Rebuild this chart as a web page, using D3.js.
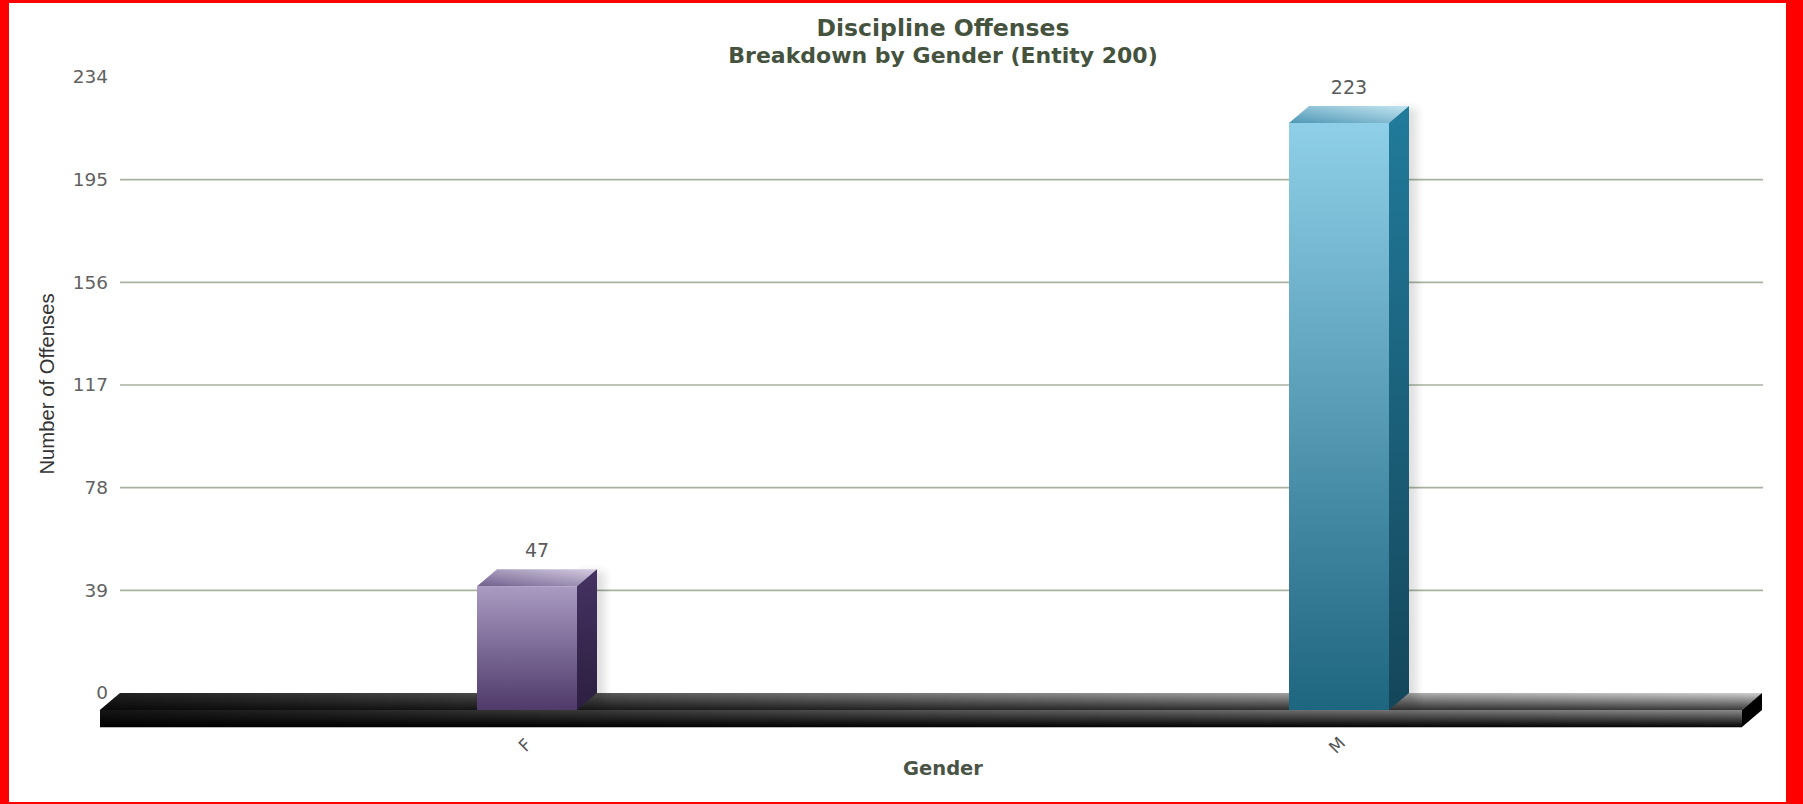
<!DOCTYPE html>
<html>
<head>
<meta charset="utf-8">
<script src="https://cdn.jsdelivr.net/npm/d3@7"></script>
<style>
  html, body { margin: 0; padding: 0; background: #ffffff; }
  svg { display: block; }
</style>
</head>
<body>
<svg id="chart" width="1803" height="804"></svg>
<script>
// ---- data ----
const categories = ["F", "M"];
const offenses = [47, 223];
const yTickValues = [0, 39, 78, 117, 156, 195, 234];
const titleText = "Discipline Offenses";
const subtitleText = "Breakdown by Gender (Entity 200)";
const xAxisTitle = "Gender";
const yAxisTitle = "Number of Offenses";

// ---- styles ----
const palettes = [
  { frontTop: "#a99bc2", frontBot: "#4f3a6a", sideTop: "#453262", sideBot: "#2c1f40", topL: "#6e5e8c", topR: "#d6cde3" },
  { frontTop: "#8fd0e8", frontBot: "#1e6580", sideTop: "#217b9b", sideBot: "#15465a", topL: "#4f97b5", topR: "#c4e6f2" }
];

const W = 1803, H = 804;
const svg = d3.select("#chart");
const defs = svg.append("defs");

// frame
svg.append("rect").attr("x", 0).attr("y", 0).attr("width", W).attr("height", H).attr("fill", "#ff0000");
svg.append("rect").attr("x", 9).attr("y", 3).attr("width", 1777).attr("height", 799).attr("fill", "#ffffff");

// geometry
const depthX = 20, depthY = 17;
const barW = 100;
const y = d3.scaleLinear().domain([0, 234]).range([693, 77]);
const x = d3.scalePoint().domain(categories).range([141, 1765]).padding(0.5);
const gridLeft = 120, gridRight = 1763;

// gridlines
svg.append("g").selectAll("line")
  .data(yTickValues.filter(v => v > 0 && v < 234))
  .join("line")
  .attr("x1", gridLeft).attr("x2", gridRight)
  .attr("y1", d => y(d)).attr("y2", d => y(d))
  .attr("stroke", "#a7b39f").attr("stroke-width", 1.6);

// y axis tick labels
const yAxis = d3.axisLeft(y).tickValues(yTickValues).tickSize(0).tickPadding(0);
const yg = svg.append("g").attr("transform", "translate(108,0)").call(yAxis);
yg.select(".domain").remove();
yg.selectAll("text")
  .attr("font-family", "DejaVu Sans, Verdana, sans-serif")
  .attr("font-size", 18.5)
  .attr("fill", "#626262");

// floor
const fl = 100, fr = 1742, fTop = y(0), fFront = y(0) + depthY, fBot = fFront + 17;
const gTop = defs.append("linearGradient").attr("id", "floorTop").attr("x1", 0).attr("y1", 0).attr("x2", 0).attr("y2", 1);
gTop.append("stop").attr("offset", "0%").attr("stop-color", "#cfcfcf");
gTop.append("stop").attr("offset", "100%").attr("stop-color", "#3a3a3a");
const gFront = defs.append("linearGradient").attr("id", "floorFront").attr("x1", 0).attr("y1", 0).attr("x2", 0).attr("y2", 1);
gFront.append("stop").attr("offset", "0%").attr("stop-color", "#8a8a8a");
gFront.append("stop").attr("offset", "100%").attr("stop-color", "#050505");
const gShade = defs.append("linearGradient").attr("id", "floorShade").attr("x1", 0).attr("y1", 0).attr("x2", 1).attr("y2", 0);
gShade.append("stop").attr("offset", "0%").attr("stop-color", "#000").attr("stop-opacity", 0.85);
gShade.append("stop").attr("offset", "55%").attr("stop-color", "#000").attr("stop-opacity", 0.35);
gShade.append("stop").attr("offset", "100%").attr("stop-color", "#000").attr("stop-opacity", 0.0);

const floor = svg.append("g");
const topPts = [[fl, fFront], [fl + depthX, fTop], [fr + depthX, fTop], [fr, fFront]];
floor.append("polygon").attr("points", topPts.join(" ")).attr("fill", "url(#floorTop)");
floor.append("polygon").attr("points", topPts.join(" ")).attr("fill", "url(#floorShade)");
floor.append("rect").attr("x", fl).attr("y", fFront).attr("width", fr - fl).attr("height", fBot - fFront).attr("fill", "url(#floorFront)");
floor.append("rect").attr("x", fl).attr("y", fFront).attr("width", fr - fl).attr("height", fBot - fFront).attr("fill", "url(#floorShade)");
floor.append("line").attr("x1", fl).attr("x2", fr).attr("y1", fBot + 0.5).attr("y2", fBot + 0.5).attr("stroke", "#bbbbbb").attr("stroke-width", 1);
floor.append("polygon")
  .attr("points", [[fr, fFront], [fr + depthX, fTop], [fr + depthX, fTop + 17], [fr, fBot]].join(" "))
  .attr("fill", "#000");

// bar gradients
palettes.forEach((p, i) => {
  const gf = defs.append("linearGradient").attr("id", "front" + i).attr("x1", 0).attr("y1", 0).attr("x2", 0).attr("y2", 1);
  gf.append("stop").attr("offset", "0%").attr("stop-color", p.frontTop);
  gf.append("stop").attr("offset", "100%").attr("stop-color", p.frontBot);
  const gs = defs.append("linearGradient").attr("id", "side" + i).attr("x1", 0).attr("y1", 0).attr("x2", 0).attr("y2", 1);
  gs.append("stop").attr("offset", "0%").attr("stop-color", p.sideTop);
  gs.append("stop").attr("offset", "100%").attr("stop-color", p.sideBot);
  const gt = defs.append("linearGradient").attr("id", "top" + i).attr("x1", 0).attr("y1", 1).attr("x2", 1).attr("y2", 0);
  gt.append("stop").attr("offset", "0%").attr("stop-color", p.topL);
  gt.append("stop").attr("offset", "100%").attr("stop-color", p.topR);
});
const blur = defs.append("filter").attr("id", "soft").attr("x", "-20%").attr("y", "-20%").attr("width", "140%").attr("height", "140%");
blur.append("feGaussianBlur").attr("stdDeviation", 4);

const barData = categories.map((c, i) => ({ cat: c, value: offenses[i], i }));
const bars = svg.append("g").selectAll("g").data(barData).join("g");

bars.each(function (d) {
  const g = d3.select(this);
  const cx = x(d.cat);
  const bl = cx - barW / 2 - depthX;  // front-left
  const br = bl + barW;               // front-right
  const yv = y(d.value), y0 = y(0);
  // soft shadow
  g.append("rect").attr("x", br + 2).attr("y", yv + 2).attr("width", depthX + 6).attr("height", y0 - yv + depthY - 4)
    .attr("fill", "#000").attr("opacity", 0.12).attr("filter", "url(#soft)");
  g.append("rect").attr("x", bl).attr("y", yv + depthY).attr("width", barW).attr("height", y0 - yv)
    .attr("fill", `url(#front${d.i})`);
  g.append("polygon")
    .attr("points", [[bl, yv + depthY], [bl + depthX, yv], [br + depthX, yv], [br, yv + depthY]].join(" "))
    .attr("fill", `url(#top${d.i})`);
  g.append("polygon")
    .attr("points", [[br, yv + depthY], [br + depthX, yv], [br + depthX, y0], [br, y0 + depthY]].join(" "))
    .attr("fill", `url(#side${d.i})`);
  g.append("text")
    .attr("x", cx - depthX / 2).attr("y", yv - 19)
    .attr("text-anchor", "middle").attr("dominant-baseline", "central")
    .attr("font-family", "DejaVu Sans, Verdana, sans-serif").attr("font-size", 19)
    .attr("fill", "#5a5a5a")
    .text(d.value);
});

// x axis category labels (rotated)
svg.append("g").selectAll("text").data(categories).join("text")
  .attr("transform", d => `translate(${x(d) - 22},745) rotate(-45)`)
  .attr("text-anchor", "middle").attr("dominant-baseline", "central")
  .attr("font-family", "DejaVu Sans, Verdana, sans-serif").attr("font-size", 17)
  .attr("fill", "#555")
  .text(d => d);

// titles
svg.append("text").attr("x", 943).attr("y", 28)
  .attr("text-anchor", "middle").attr("dominant-baseline", "central")
  .attr("font-family", "DejaVu Sans, Verdana, sans-serif").attr("font-weight", "bold").attr("font-size", 23.5)
  .attr("fill", "#45533e").text(titleText);
svg.append("text").attr("x", 943).attr("y", 55)
  .attr("text-anchor", "middle").attr("dominant-baseline", "central")
  .attr("font-family", "DejaVu Sans, Verdana, sans-serif").attr("font-weight", "bold").attr("font-size", 22)
  .attr("fill", "#45533e").text(subtitleText);
svg.append("text").attr("x", 943).attr("y", 768)
  .attr("text-anchor", "middle").attr("dominant-baseline", "central")
  .attr("font-family", "DejaVu Sans, Verdana, sans-serif").attr("font-weight", "bold").attr("font-size", 19.5)
  .attr("fill", "#4a5446").text(xAxisTitle);
svg.append("text").attr("transform", "translate(47,384) rotate(-90)")
  .attr("text-anchor", "middle").attr("dominant-baseline", "central")
  .attr("font-family", "Liberation Sans, Arial, sans-serif").attr("font-size", 20.3)
  .attr("fill", "#333").text(yAxisTitle);
</script>
</body>
</html>
